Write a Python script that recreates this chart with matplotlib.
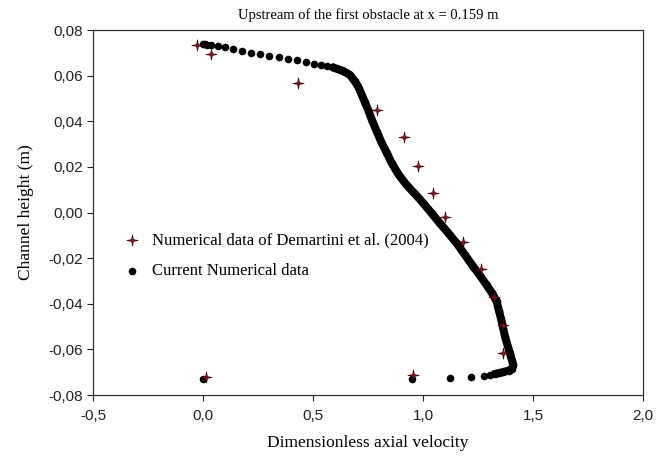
import matplotlib
matplotlib.use("Agg")
import matplotlib.pyplot as plt
import numpy as np
from matplotlib.path import Path
from matplotlib.ticker import FuncFormatter

# Demartini et al. (2004)
demartini_x = [-0.026, 0.035, 0.433, 0.792, 0.914, 0.979, 1.044, 1.101, 1.180,
               1.264, 1.324, 1.365, 1.362, 0.956, 0.015]
demartini_y = [0.0734, 0.0693, 0.0569, 0.0449, 0.0331, 0.0205, 0.0084, -0.0019,
               -0.0128, -0.0249, -0.0369, -0.0493, -0.0617, -0.0713, -0.0719]

# current numerical data: sparse top dots, dense middle part, sparse bottom dots
top_x = [0.000, 0.010, 0.020, 0.035, 0.070, 0.100, 0.135, 0.176, 0.217, 0.259,
         0.301, 0.344, 0.388, 0.426, 0.468, 0.505, 0.536, 0.562, 0.590]
top_y = [0.0739, 0.0738, 0.0735, 0.0733, 0.0730, 0.0724, 0.0715, 0.0708, 0.0701,
         0.0693, 0.0687, 0.0680, 0.0673, 0.0667, 0.0660, 0.0652, 0.0648, 0.0642,
         0.0636]
dense_x = [0.590, 0.615, 0.638, 0.668, 0.690, 0.706, 0.720, 0.735, 0.751, 0.770,
           0.790, 0.810, 0.835, 0.858, 0.890, 0.926, 0.965, 1.002, 1.040, 1.077,
           1.115, 1.153, 1.190, 1.229, 1.260, 1.289, 1.315, 1.335, 1.345, 1.356,
           1.373, 1.395, 1.405, 1.410, 1.405, 1.390, 1.365, 1.345, 1.325]
dense_y = [0.0636, 0.0628, 0.0620, 0.0603, 0.0575, 0.0551, 0.0520, 0.0485, 0.0449,
           0.0400, 0.0355, 0.0310, 0.0262, 0.0216, 0.0165, 0.0120, 0.0080, 0.0040,
           -0.0004, -0.0048, -0.0090, -0.0135, -0.0185, -0.0238, -0.0278, -0.0318,
           -0.0355, -0.0390, -0.0430, -0.0471, -0.0545, -0.0617, -0.0650, -0.0669,
           -0.0684, -0.0693, -0.0699, -0.0704, -0.0708]
bottom_x = [1.305, 1.277, 1.217, 1.123, 0.952, 0.000]
bottom_y = [-0.0712, -0.0717, -0.0723, -0.0724, -0.0728, -0.0728]

title = "Upstream of the first obstacle at x = 0.159 m"
label_demartini = "Numerical data of Demartini et al. (2004)"
label_current = "Current Numerical data"

# thin four-pointed star like the original marker
ang = np.pi / 2 + np.arange(8) * np.pi / 4
rad = np.where(np.arange(8) % 2 == 0, 1.0, 0.22)
star_verts = np.column_stack([rad * np.cos(ang), rad * np.sin(ang)])
star_verts = np.vstack([star_verts, star_verts[:1]])
star = Path(star_verts, [Path.MOVETO] + [Path.LINETO] * 7 + [Path.CLOSEPOLY])

serif = "Liberation Serif"
sans = "Liberation Sans"

fig = plt.figure(figsize=(6.71, 4.62), dpi=100)
ax = fig.add_axes([0.1386, 0.145, 0.8197, 0.790])

cur_x = top_x + dense_x + bottom_x
cur_y = top_y + dense_y + bottom_y
ax.plot(dense_x, dense_y, color="black", lw=5.8, solid_capstyle="round",
        solid_joinstyle="round", zorder=2)
ax.scatter(cur_x, cur_y, s=30, color="black", linewidths=0, zorder=2,
           label=label_current)
ax.scatter(demartini_x, demartini_y, s=66, marker=star, facecolor="#8e1628",
           edgecolor="#3a0508", linewidths=0.5, zorder=3, label=label_demartini)

ax.set_xlim(-0.5, 2.0)
ax.set_ylim(-0.08, 0.08)
ax.set_xticks([-0.5, 0.0, 0.5, 1.0, 1.5, 2.0])
ax.set_yticks(np.arange(-0.08, 0.081, 0.02))
ax.xaxis.set_major_formatter(FuncFormatter(lambda v, p: f"{v:.1f}".replace(".", ",")))
ax.yaxis.set_major_formatter(FuncFormatter(lambda v, p: f"{v:.2f}".replace(".", ",")))
ax.tick_params(direction="out", length=4, width=0.8, colors="#222222",
               labelsize=11, top=False, right=False)
ax.tick_params(axis="x", pad=6)
for lab in ax.get_xticklabels() + ax.get_yticklabels():
    lab.set_fontfamily(sans)
for sp in ax.spines.values():
    sp.set_color("#333333")
    sp.set_linewidth(0.9)

ax.set_title(title, fontfamily=serif, fontsize=10.5, pad=8)
ax.set_xlabel("Dimensionless axial velocity", fontfamily=serif, fontsize=12.5, labelpad=9)
ax.set_ylabel("Channel height (m)", fontfamily=serif, fontsize=12.5, labelpad=10)

handles, labels = ax.get_legend_handles_labels()
ax.legend(handles[::-1], labels[::-1], loc="upper left", bbox_to_anchor=(0.04, 0.465),
          frameon=False, prop={"family": serif, "size": 12}, handletextpad=0.6,
          labelspacing=0.9, handlelength=1.2, borderaxespad=0)

fig.savefig("out.png", dpi=100)
